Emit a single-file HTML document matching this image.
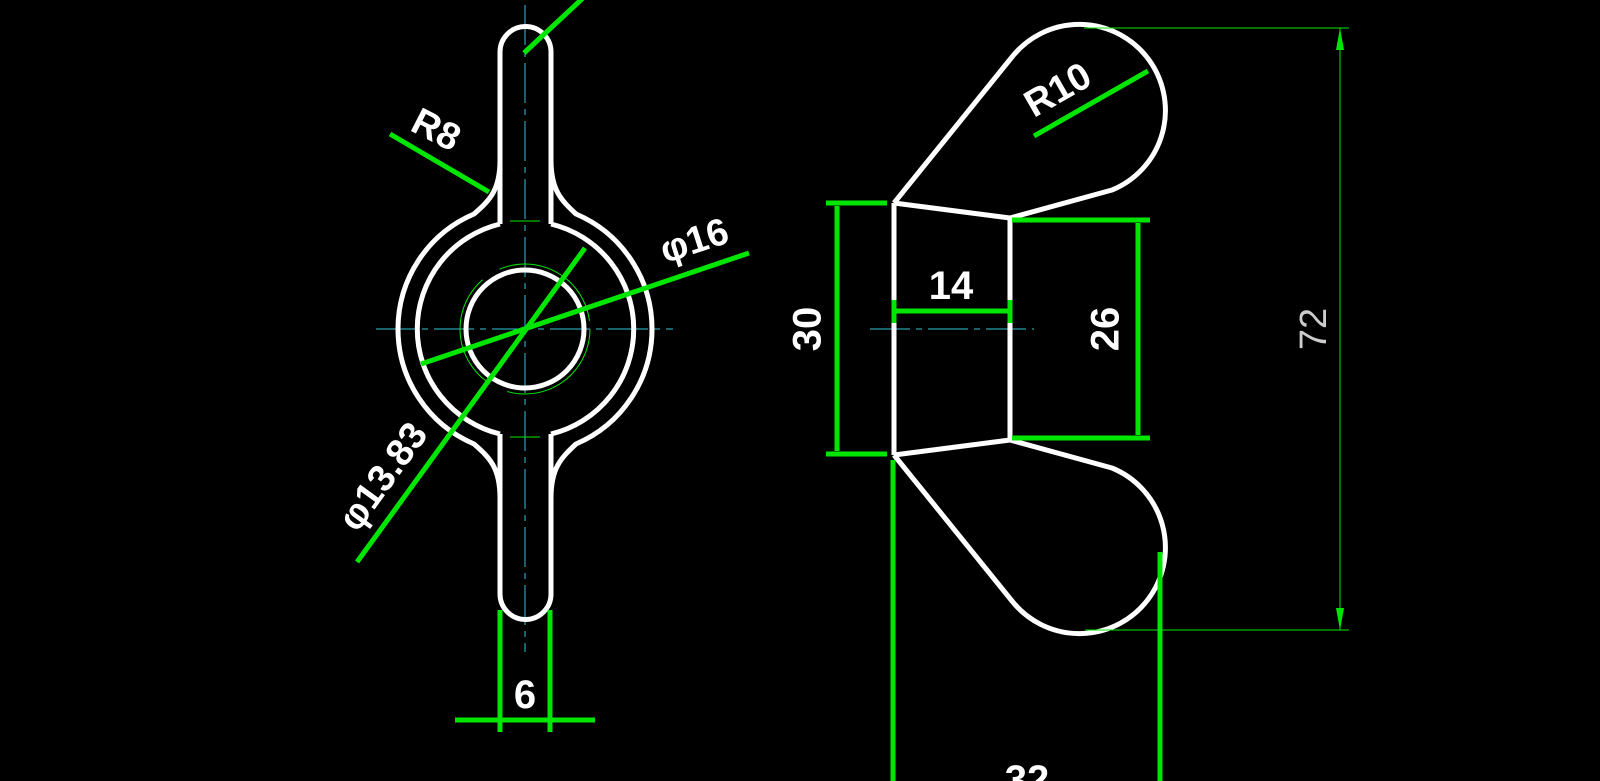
<!DOCTYPE html>
<html><head><meta charset="utf-8"><style>
html,body{margin:0;padding:0;background:#000;}
svg{display:block}
text{font-family:"Liberation Sans",sans-serif;font-weight:bold;fill:#fff;}
</style></head><body>
<svg width="1600" height="781" viewBox="0 0 1600 781" xmlns="http://www.w3.org/2000/svg">
<rect width="1600" height="781" fill="#000"/>
<g stroke="#2ec4d6" stroke-width="1" fill="none" stroke-dasharray="40,6,6,6">
<line x1="525" y1="5" x2="525" y2="652"/>
<line x1="376" y1="329" x2="673" y2="329"/>
<line x1="870" y1="329" x2="1034" y2="329"/>
</g>
<g stroke="#fff" stroke-width="5" fill="none">
<path d="M500,160 C500,190 490,200 474,214 A125,125 0 0 0 474,444 C490,458 500,468 500,498 L500,594 A25.5,25.5 0 0 0 551,594 L551,498 C551,468 561,458 576,444 A125,125 0 0 0 576,214 C561,200 551,190 551,160 L551,52 A25.5,25.5 0 0 0 500,52 Z"/>
<path d="M500,224 A108,108 0 0 0 500,434"/>
<path d="M551,434 A108,108 0 0 0 551,224"/>
<line x1="500" y1="160" x2="500" y2="224"/>
<line x1="551" y1="160" x2="551" y2="224"/>
<line x1="500" y1="434" x2="500" y2="498"/>
<line x1="551" y1="434" x2="551" y2="498"/>
<circle cx="525" cy="329" r="59"/>
</g>
<circle cx="525" cy="329" r="65" stroke="#00e600" stroke-width="1" fill="none" stroke-dasharray="120,20"/>
<g stroke="#00e600" stroke-width="1">
<line x1="510" y1="221" x2="540" y2="221"/>
<line x1="510" y1="437" x2="540" y2="437"/>
</g>
<g stroke="#00e600" stroke-width="5" fill="none" stroke-linecap="butt">
<line x1="524" y1="53" x2="583" y2="-2"/>
<line x1="390" y1="134" x2="489" y2="192"/>
<line x1="421" y1="364" x2="749" y2="253"/>
<line x1="357" y1="562" x2="585" y2="248"/>
<line x1="500" y1="610" x2="500" y2="732"/>
<line x1="550" y1="610" x2="550" y2="732"/>
<line x1="455" y1="720" x2="595" y2="720"/>
</g>
<text x="435" y="132" font-size="38" text-anchor="middle" dominant-baseline="middle" transform="rotate(27 435 132)">R8</text>
<text x="695" y="243" font-size="38" text-anchor="middle" dominant-baseline="middle" transform="rotate(-18 695 243)">φ16</text>
<text x="385" y="478" font-size="38" text-anchor="middle" dominant-baseline="middle" transform="rotate(-54 385 478)">φ13.83</text>
<text x="525" y="708" font-size="40" text-anchor="middle">6</text>
<g stroke="#fff" stroke-width="5" fill="none" stroke-linejoin="round">
<line x1="894" y1="203" x2="894" y2="455"/>
<line x1="1010" y1="218" x2="1010" y2="440"/>
<line x1="894" y1="203" x2="1010" y2="218"/>
<line x1="894" y1="455" x2="1010" y2="440"/>
<path d="M894,203 L1012,57 A86,86 0 1 1 1112,190 L1010,218"/>
<path d="M894,455 L1012,601 A86,86 0 1 0 1112,468 L1010,440"/>
</g>
<g stroke="#00e600" stroke-width="5" fill="none">
<line x1="826" y1="203" x2="887" y2="203"/>
<line x1="826" y1="454" x2="887" y2="454"/>
<line x1="837" y1="206" x2="837" y2="451"/>
<line x1="894" y1="300" x2="894" y2="323"/>
<line x1="1010" y1="300" x2="1010" y2="323"/>
<line x1="896" y1="311" x2="1008" y2="311"/>
<line x1="1012" y1="220" x2="1150" y2="220"/>
<line x1="1012" y1="438" x2="1150" y2="438"/>
<line x1="1138" y1="223" x2="1138" y2="435"/>
<line x1="1034" y1="136" x2="1148" y2="71"/>
<line x1="893" y1="460" x2="893" y2="781"/>
<line x1="1160" y1="552" x2="1160" y2="781"/>
</g>
<g stroke="#00e600" stroke-width="1" fill="none">
<line x1="1084" y1="28" x2="1349" y2="28"/>
<line x1="1085" y1="630" x2="1349" y2="630"/>
<line x1="1340" y1="28" x2="1340" y2="630"/>
</g>
<polygon points="1340,28 1336,50 1344,50" fill="#00e600"/>
<polygon points="1340,630 1336,608 1344,608" fill="#00e600"/>
<text x="810" y="329" font-size="40" text-anchor="middle" dominant-baseline="middle" transform="rotate(-90 810 329)">30</text>
<text x="951" y="299" font-size="40" text-anchor="middle">14</text>
<text x="1108" y="329" font-size="40" text-anchor="middle" dominant-baseline="middle" transform="rotate(-90 1108 329)">26</text>
<text x="1059" y="92" font-size="38" text-anchor="middle" dominant-baseline="middle" transform="rotate(-30 1059 92)">R10</text>
<text x="1316" y="329" font-size="38" text-anchor="middle" dominant-baseline="middle" transform="rotate(-90 1316 329)" style="font-weight:normal;fill:#ccc">72</text>
<text x="1027" y="793" font-size="40" text-anchor="middle">32</text>
</svg>
</body></html>
